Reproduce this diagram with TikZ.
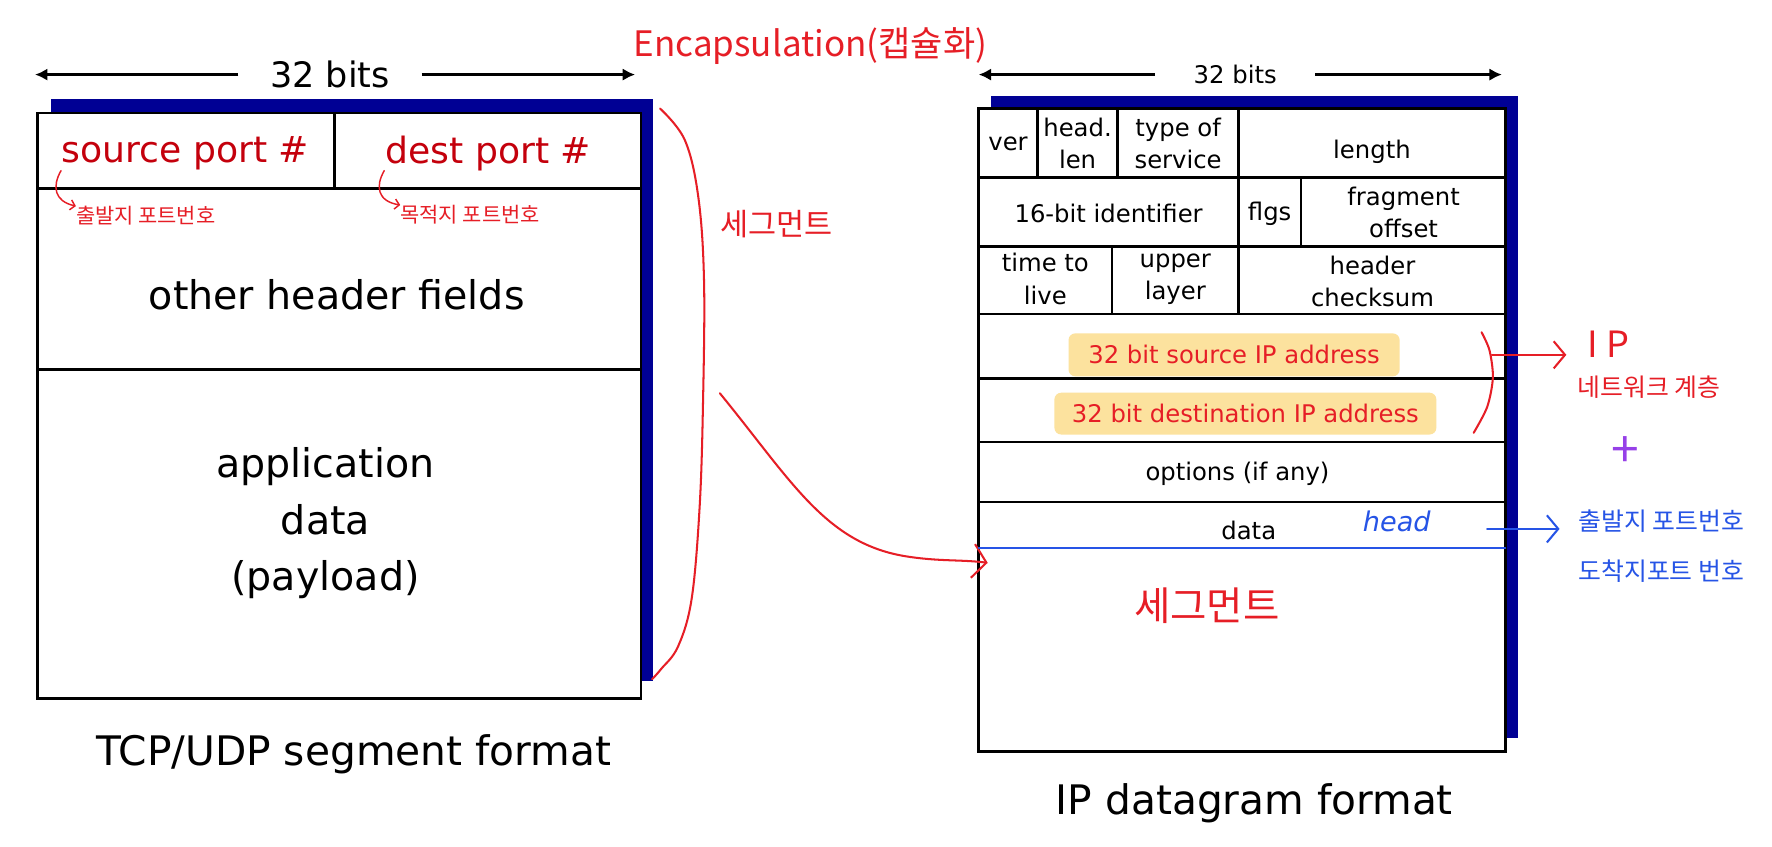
\documentclass[tikz,border=0pt]{standalone}
\usepackage{fontspec}
\setmainfont{DejaVu Sans}
\newfontfamily\krfont{Noto Sans CJK KR}
\usetikzlibrary{arrows, arrows.meta, math}
\definecolor{qnavy}{RGB}{0,0,148}
\definecolor{qred}{RGB}{230,30,38}
\definecolor{qdred}{RGB}{196,0,12}
\definecolor{qblue}{RGB}{38,84,230}
\definecolor{qpurple}{RGB}{150,64,232}
\definecolor{qyellow}{RGB}{252,226,158}

\begin{document}
\begin{tikzpicture}[x=1pt, y=-1pt,
 cell/.style={line width=2.2},
 bitarrow/.style={line width=2.5, -{Latex[length=11pt, width=11pt]}},
 big/.style={inner sep=0, align=center, font=\fontsize{35}{50}\selectfont},
 small/.style={inner sep=0, align=center, font=\fontsize{21.5}{29}\selectfont},
 hand/.style={color=qred, line width=1.8, line cap=round, line join=round},
 bhand/.style={hand, color=qblue},
 barb/.style={-{Straight Barb[length=10pt, width=24pt]}},
 kr/.style={inner sep=0, font=\krfont\fontsize{#1}{#1}\selectfont}]

\tikzmath{
\xl = 866; % datagram box
\xr = 1332;
\yt = 96;
\yb = 665;
}

\useasboundingbox (0,0) rectangle (1568,749);
\fill[white] (0,0) rectangle (1568,749);

%TCP/UDP segment:
\fill[qnavy] (45,88) rectangle (578,603);
\draw[cell, fill=white] (33,100) rectangle (567,618);
\draw[cell] (33,167) -- (567,167);
\draw[cell] (33,327) -- (567,327);
\draw[cell] (296,100) -- (296,167);

\node[big, font=\fontsize{31}{31}\selectfont, inner xsep=28] (bitsL) at (292,66) {32 bits};
\coordinate (bitsLw) at (31,66);
\coordinate (bitsLe) at (562,66);
\draw[bitarrow] (bitsL) -- (bitsLw);
\draw[bitarrow] (bitsL) -- (bitsLe);

\node[big, font=\fontsize{32}{32}\selectfont, text=qdred] (sport) at (164,136) {source port \#};
\node[big, font=\fontsize{32}{32}\selectfont, text=qdred] (dport) at (432,136) {dest port \#};
\node[big] (other) at (298,261) {other header fields};
\node[big] (appdata) at (288,463) {application\\data\\(payload)};
\node[big, font=\fontsize{36}{36}\selectfont] (tcpcap) at (313,667) {TCP/UDP segment format};

%notes on the segment:
\node[kr=18.5, text=qred] (sportkr) at (129,191) {출발지 포트번호};
\node[kr=18.5, text=qred] (dportkr) at (416,190) {목적지 포트번호};
\coordinate (h1) at (54,151);
\coordinate (h2) at (340,151);
\draw[hand, line width=1.3, -{Straight Barb[length=4pt, width=9pt]}] (h1) .. controls (46,165) and (48,178) .. (sportkr.north west);
\draw[hand, line width=1.3, -{Straight Barb[length=4pt, width=9pt]}] (h2) .. controls (332,165) and (334,178) .. (dportkr.north west);

\node[kr=31, text=qred] (encap) at (717,41) {Encapsulation(캡슐화)};
\node[kr=27, text=qred] (segkr) at (687,198) {세그먼트};
\draw[hand] plot[smooth, tension=0.6] coordinates {(584,96) (606,124) (618,175) (623,250) (622,360) (619,450) (612,530) (600,572) (585,592) (577,601)};

%IP datagram:
\fill[qnavy] (\xl+11,\yt-11) rectangle (\xr+11,\yb-12);
\draw[cell, fill=white] (\xl,\yt) rectangle (\xr,\yb);
\foreach \y in {157,218,278,335,391,444}{
 \draw[cell] (\xl,\y) -- (\xr,\y);
 }
\foreach \x/\ya/\yz in {918/96/157, 989/96/157, 1096/96/278, 1151/157/218, 984/218/278}{
 \draw[cell] (\x,\ya) -- (\x,\yz);
 }

\node[small, inner xsep=34] (bitsR) at (1093,66) {32 bits};
\coordinate (bitsRw) at (866,66);
\coordinate (bitsRe) at (1329,66);
\draw[bitarrow] (bitsR) -- (bitsRw);
\draw[bitarrow] (bitsR) -- (bitsRe);

\node[small] (ver) at (892,127) {ver};
\node[small] (hlen) at (953.5,127) {head.\\len};
\node[small] (tos) at (1042.5,127) {type of\\service};
\node[small] (len) at (1214,134) {length};
\node[small] (ident) at (981,189) {16-bit identifier};
\node[small] (flgs) at (1123.5,189) {flgs};
\node[small] (frag) at (1242,188) {fragment\\offset};
\node[small] (ttl) at (925,247) {time to\\live};
\node[small] (upper) at (1040,247) {upper\\layer};
\node[small] (csum) at (1214.5,249) {header\\checksum};

\node[small, text=qred, fill=qyellow, rounded corners=6, minimum width=293, minimum height=38] (srcip) at (1092,314) {32 bit source IP address};
\node[small, text=qred, fill=qyellow, rounded corners=6, minimum width=338, minimum height=37] (dstip) at (1102,366) {32 bit destination IP address};
\node[small] (opts) at (1095,419) {options (if any)};
\node[small] (data) at (1105,469) {data};
\node[big, font=\fontsize{36}{36}\selectfont] (ipcap) at (1110,711) {IP datagram format};

%encapsulation arrow:
\coordinate (encA) at (637,348);
\coordinate (encB) at (874,498);
\draw[hand, -{Straight Barb[length=12pt, width=30pt]}] (encA) .. controls (700,425) and (730,480) .. (800,492) .. controls (830,497) and (850,495) .. (encB);

%notes on the datagram:
\node[inner sep=0, text=qblue, font=\fontsize{24}{24}\selectfont\itshape] (head) at (1236,461) {head};
\coordinate (segL) at (\xl,485);
\coordinate (segR) at (\xr,485);
\draw[bhand] (segL) -- (segR);
\node[kr=35, text=qred] (segkr2) at (1068,536) {세그먼트};

\draw[hand] plot[smooth] coordinates {(1311,294) (1318,310) (1321,334) (1316,360) (1304,383)};
\coordinate (brk) at (1320,314);
\coordinate (brkA) at (1386,314);
\draw[hand, barb] (brk) -- (brkA);
\node[kr=32, text=qred] (ipkr) at (1423,305) {I P};
\node[kr=22, text=qred] (netkr) at (1459,343) {네트워크 계층};
\node[kr=44, text=qpurple] (plus) at (1438,400) {+};

\coordinate (hd) at (1316,468);
\coordinate (hdA) at (1380,468);
\draw[bhand, barb] (hd) -- (hdA);
\node[kr=22, text=qblue] (srckr) at (1470,461) {출발지 포트번호};
\node[kr=22, text=qblue] (dstkr) at (1470,505) {도착지포트 번호};

\end{tikzpicture}
\end{document}
